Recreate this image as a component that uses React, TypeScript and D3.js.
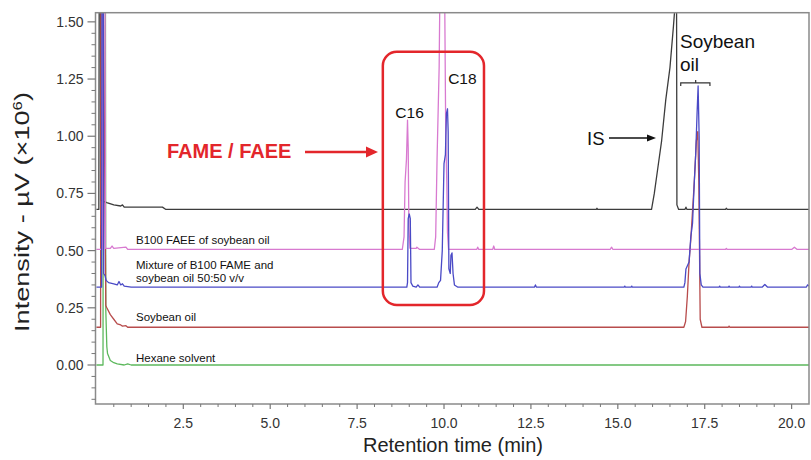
import React from "react";
import * as d3 from "d3";

// retention time (min), intensity (x10^6 uV)
const isTrace: [number, number][] = [
  [0, 0.68], [0.07, 0.68], [0.08, 1.6], [0.12, 1.6], [0.13, 0.72], [0.3, 0.71], [0.5, 0.7],
  [0.7, 0.695], [0.75, 0.7], [0.8, 0.69], [1.9, 0.69], [2.0, 0.68], [10.9, 0.68], [10.95, 0.69],
  [11.0, 0.68], [14.38, 0.68], [14.4, 0.685], [14.42, 0.68], [15.97, 0.68], [16.05, 0.75],
  [16.15, 0.86], [16.26, 0.98], [16.38, 1.16], [16.5, 1.3], [16.6, 1.48], [16.66, 1.6],
  [16.69, 1.6], [16.7, 0.7], [16.75, 0.68], [16.93, 0.68], [16.96, 0.69], [16.99, 0.68],
  [18.1, 0.68], [18.12, 0.685], [18.15, 0.68], [20.5, 0.68],
];

const faeeTrace: [number, number][] = [
  [0, 0.505], [0.17, 0.505], [0.18, 1.6], [0.25, 1.6], [0.26, 0.51], [0.4, 0.51], [0.45, 0.52],
  [0.5, 0.51], [0.85, 0.515], [0.9, 0.505], [8.8, 0.505], [8.85, 0.56], [8.88, 0.8], [8.92, 0.9],
  [8.95, 1.07], [8.97, 0.95], [8.99, 0.6], [9.02, 0.51], [9.2, 0.51], [9.22, 0.515], [9.3, 0.505],
  [9.72, 0.505], [9.76, 0.56], [9.8, 0.9], [9.86, 1.3], [9.88, 1.6], [10.02, 1.6], [10.05, 1.0],
  [10.08, 0.8], [10.1, 0.58], [10.13, 0.505], [10.94, 0.505], [10.97, 0.515], [11.0, 0.505],
  [11.4, 0.505], [11.43, 0.52], [11.46, 0.505], [14.78, 0.505], [14.82, 0.515], [14.86, 0.505],
  [18.1, 0.505], [18.12, 0.51], [18.15, 0.505], [20.0, 0.505], [20.08, 0.515], [20.16, 0.505],
  [20.5, 0.505],
];

const mixTrace: [number, number][] = [
  [0, 0.34], [0.15, 0.34], [0.16, 1.6], [0.2, 1.6], [0.21, 0.4], [0.25, 0.39], [0.28, 0.37],
  [0.35, 0.36], [0.5, 0.355], [0.6, 0.35], [0.65, 0.365], [0.7, 0.35], [0.75, 0.355],
  [0.8, 0.345], [1.0, 0.34], [8.93, 0.34], [8.95, 0.36], [8.97, 0.64], [9.0, 0.66], [9.03, 0.64],
  [9.05, 0.36], [9.1, 0.345], [9.2, 0.34], [9.25, 0.35], [9.3, 0.34], [9.8, 0.34], [9.85, 0.36],
  [9.9, 0.37], [9.95, 0.5], [10.0, 0.88], [10.04, 0.92], [10.07, 1.1], [10.1, 1.12], [10.12, 1.02],
  [10.14, 0.42], [10.18, 0.4], [10.2, 0.48], [10.23, 0.49], [10.26, 0.4], [10.3, 0.35],
  [10.4, 0.34], [12.6, 0.34], [12.63, 0.35], [12.66, 0.34], [15.18, 0.34], [15.2, 0.345],
  [15.22, 0.34], [15.38, 0.34], [15.4, 0.345], [15.42, 0.34], [16.9, 0.34], [16.93, 0.36],
  [16.96, 0.42], [17.05, 0.45], [17.1, 0.56], [17.15, 0.62], [17.2, 0.8], [17.24, 0.92],
  [17.28, 1.1], [17.31, 1.22], [17.34, 1.0], [17.36, 0.4], [17.4, 0.35], [17.45, 0.34],
  [17.91, 0.34], [17.93, 0.345], [17.95, 0.34], [18.18, 0.34], [18.2, 0.345], [18.22, 0.34],
  [18.48, 0.34], [18.5, 0.345], [18.52, 0.34], [18.83, 0.34], [18.85, 0.345], [18.87, 0.34],
  [19.15, 0.34], [19.23, 0.352], [19.31, 0.34], [20.42, 0.34], [20.46, 0.35], [20.5, 0.345],
];

const oilTrace: [number, number][] = [
  [0, 0.165], [0.12, 0.165], [0.13, 1.6], [0.2, 1.6], [0.27, 0.26], [0.3, 0.25], [0.4, 0.22],
  [0.5, 0.2], [0.6, 0.18], [0.7, 0.175], [0.75, 0.17], [0.85, 0.172], [0.9, 0.165],
  [16.9, 0.165], [16.95, 0.19], [17.0, 0.3], [17.05, 0.45], [17.1, 0.55], [17.2, 0.8],
  [17.26, 0.98], [17.3, 1.02], [17.33, 0.8], [17.37, 0.2], [17.42, 0.165], [18.18, 0.165],
  [18.2, 0.17], [18.22, 0.165], [20.5, 0.165],
];

const hexaneTrace: [number, number][] = [
  [0, 0.0], [0.19, 0.0], [0.2, 1.6], [0.26, 1.6], [0.27, 0.24], [0.3, 0.08], [0.32, 0.05],
  [0.4, 0.02], [0.5, 0.01], [0.6, 0.005], [0.8, 0.0], [0.9, 0.005], [1.0, 0.0], [20.5, 0.0],
];

const traceColors = ["#3c3c3c", "#5cb85c", "#b84c4c", "#d87ad0", "#4a4ac6"];
const traceNames = ["IS", "Hexane solvent", "Soybean oil", "B100 FAEE", "Mixture"];

const yTicks = [0, 0.25, 0.5, 0.75, 1.0, 1.25, 1.5];
const xTicks = [2.5, 5.0, 7.5, 10.0, 12.5, 15.0, 17.5, 20.0];

const W = 811;
const H = 460;
const left = 95.5;
const right = 809;
const top = 12.7;
const bottom = 404;

export default function App() {
  const x = d3.scaleLinear().domain([-0.026, 20.5]).range([left, right]);
  const y = d3.scaleLinear().domain([-0.1705, 1.54]).range([bottom, top]);
  const line = d3
    .line<[number, number]>()
    .x((d) => x(d[0]))
    .y((d) => y(d[1]));

  const traces = [isTrace, hexaneTrace, oilTrace, faeeTrace, mixTrace];
  const yMinor = d3.range(-0.15, 1.53, 0.05).filter((v) => Math.abs(v / 0.25 - Math.round(v / 0.25)) > 0.01);
  const xMinor = d3.range(0.5, 20.5, 0.5).filter((v) => Math.abs(v / 2.5 - Math.round(v / 2.5)) > 0.01);
  const font = "Arial, 'Liberation Sans', sans-serif";
  const red = "#e3262b";

  return (
    <div style={{ position: "absolute", left: 0, top: 0 }}>
      <svg width={W} height={H} style={{ display: "block", background: "#fff" }} fontFamily={font}>
        <defs>
          <clipPath id="plot">
            <rect x={left} y={top} width={right - left} height={bottom - top} />
          </clipPath>
        </defs>

        {/* traces */}
        <g clipPath="url(#plot)">
          {traces.map((t, i) => (
            <path key={traceNames[i]} d={line(t) || ""} fill="none" stroke={traceColors[i]}
              strokeWidth={1.3} strokeLinejoin="round" />
          ))}
        </g>

        {/* frame */}
        <rect x={left} y={top} width={right - left} height={bottom - top} fill="none" stroke="#8a8a8a" strokeWidth={1.5} />

        {/* y axis */}
        {yTicks.map((v) => (
          <g key={"y" + v}>
            <line x1={left - 8} x2={left} y1={y(v)} y2={y(v)} stroke="#777" strokeWidth={1.2} />
            <text x={left - 12} y={y(v)} dy="0.35em" textAnchor="end" fontSize={14} fill="#333">
              {v.toFixed(2)}
            </text>
          </g>
        ))}
        {yMinor.map((v) => (
          <line key={"ym" + v} x1={left - 4} x2={left} y1={y(v)} y2={y(v)} stroke="#777" strokeWidth={1} />
        ))}

        {/* x axis */}
        {xTicks.map((v) => (
          <g key={"x" + v}>
            <line x1={x(v)} x2={x(v)} y1={bottom} y2={bottom + 5} stroke="#777" strokeWidth={1.2} />
            <text x={x(v)} y={bottom + 24} textAnchor="middle" fontSize={14} fill="#333">
              {v.toFixed(1)}
            </text>
          </g>
        ))}
        {xMinor.map((v) => (
          <line key={"xm" + v} x1={x(v)} x2={x(v)} y1={bottom} y2={bottom + 3} stroke="#777" strokeWidth={1} />
        ))}

        {/* axis titles */}
        <text x={453} y={452} textAnchor="middle" fontSize={20} fill="#222">
          Retention time (min)
        </text>
        <text transform="translate(29,212) rotate(-90)" textAnchor="middle" fontSize={21} fill="#222"
          textLength={240} lengthAdjust="spacingAndGlyphs">
          Intensity - µV (×10<tspan dy="-7" fontSize={13}>6</tspan><tspan dy="7">)</tspan>
        </text>

        {/* trace labels */}
        <g fontSize={11.5} fill="#111">
          <text x={136} y={244}>B100 FAEE of soybean oil</text>
          <text x={136} y={268.5}>Mixture of B100 FAME and</text>
          <text x={136} y={282}>soybean oil 50:50 v/v</text>
          <text x={136} y={321}>Soybean oil</text>
          <text x={136} y={362}>Hexane solvent</text>
        </g>

        {/* FAME / FAEE box and arrow */}
        <rect x={x(8.24)} y={y(1.369)} width={x(11.15) - x(8.24)} height={y(0.262) - y(1.369)}
          rx={14} fill="none" stroke={red} strokeWidth={2.5} />
        <text x={167} y={158} fontSize={20} fontWeight="bold" fill={red}>FAME / FAEE</text>
        <line x1={305} x2={368} y1={152} y2={152} stroke={red} strokeWidth={2.5} />
        <path d="M366,146.5 L378,152 L366,157.5 Z" fill={red} />
        <text x={x(8.6)} y={y(1.08)} fontSize={15.5} fill="#111">C16</text>
        <text x={x(10.12)} y={y(1.23)} fontSize={15.5} fill="#111">C18</text>

        {/* IS label */}
        <text x={587} y={144.5} fontSize={18.5} fill="#111">IS</text>
        <line x1={609} x2={650} y1={138} y2={138} stroke="#111" strokeWidth={1.5} />
        <path d="M647,134.5 L656,138 L647,141.5 Z" fill="#111" />

        {/* Soybean oil label */}
        <text x={680} y={48} fontSize={19} fill="#111">Soybean</text>
        <text x={680} y={71} fontSize={19} fill="#111">oil</text>
        <path d={`M${x(16.81)},${y(1.22)} L${x(16.81)},${y(1.233)} L${x(17.65)},${y(1.233)} L${x(17.65)},${y(1.22)} M${x(17.24)},${y(1.233)} L${x(17.24)},${y(1.246)}`}
          fill="none" stroke="#333" strokeWidth={1.2} />
      </svg>
    </div>
  );
}
